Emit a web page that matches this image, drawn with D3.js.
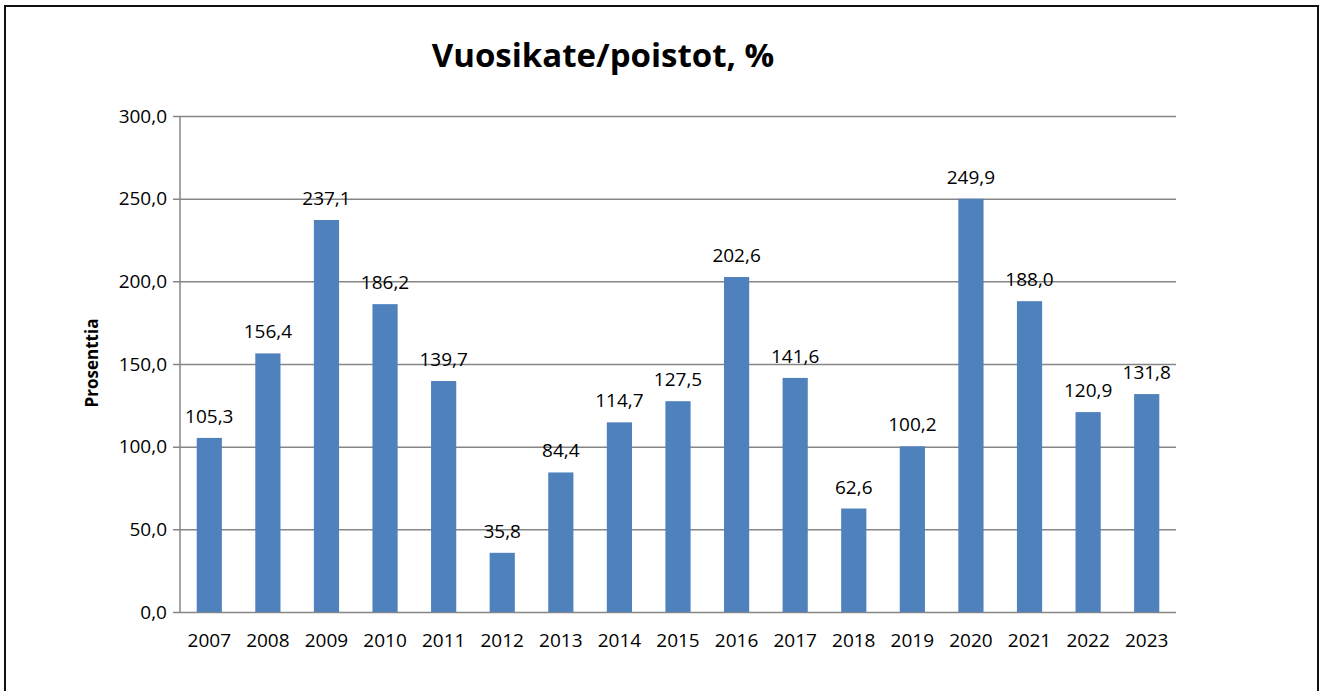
<!DOCTYPE html>
<html>
<head>
<meta charset="utf-8">
<script src="https://cdn.jsdelivr.net/npm/d3@7"></script>
<style>
  body { margin: 0; background: #fff; }
  svg text { font-family: "Open Sans", sans-serif; fill: #000; }
</style>
</head>
<body>
<svg id="chart"></svg>
<script>
// data
const years = ["2007", "2008", "2009", "2010", "2011", "2012", "2013", "2014", "2015",
  "2016", "2017", "2018", "2019", "2020", "2021", "2022", "2023"];
const values = [105.3, 156.4, 237.1, 186.2, 139.7, 35.8, 84.4, 114.7, 127.5,
  202.6, 141.6, 62.6, 100.2, 249.9, 188.0, 120.9, 131.8];
const yTicks = [0, 50, 100, 150, 200, 250, 300];

const W = 1320, H = 691;
const margin = { top: 116, right: 144, bottom: 79, left: 180 };
const width = W - margin.left - margin.right;
const height = H - margin.top - margin.bottom;

const fmt = v => d3.format(".1f")(v).replace(".", ",");

const svg = d3.select("#chart")
  .attr("width", W)
  .attr("height", H);

// outer frame
svg.append("rect")
  .attr("x", 5).attr("y", 6)
  .attr("width", 1313).attr("height", 700)
  .attr("fill", "none")
  .attr("stroke", "#111")
  .attr("stroke-width", 2);

svg.append("text")
  .attr("x", 603)
  .attr("y", 67)
  .attr("text-anchor", "middle")
  .style("font-size", "33px")
  .style("font-weight", "bold")
  .text("Vuosikate/poistot, %");

const g = svg.append("g")
  .attr("transform", `translate(${margin.left},${margin.top})`);

const x = d3.scaleBand()
  .domain(years)
  .range([0, width])
  .paddingInner(0.57)
  .paddingOuter(0.285);

const y = d3.scaleLinear()
  .domain([0, 300])
  .range([height, 0]);

// gridlines + y axis
const yAxis = g.append("g")
  .call(d3.axisLeft(y).tickValues(yTicks).tickSize(-width).tickPadding(13).tickFormat(fmt));
yAxis.select(".domain").remove();
yAxis.selectAll(".tick line")
  .attr("x1", -7)
  .attr("stroke", "#868686")
  .attr("stroke-width", 1.5);
yAxis.selectAll(".tick text")
  .style("font-size", "19px")
  .style("font-family", "Open Sans, sans-serif")
  .attr("fill", "#000");

// vertical axis line
g.append("line")
  .attr("x1", 0).attr("x2", 0)
  .attr("y1", 0).attr("y2", height)
  .attr("stroke", "#868686")
  .attr("stroke-width", 1.5);

// bars
g.selectAll(".bar")
  .data(values)
  .enter()
  .append("rect")
  .attr("class", "bar")
  .attr("x", (d, i) => x(years[i]))
  .attr("y", d => y(d))
  .attr("width", x.bandwidth())
  .attr("height", d => height - y(d))
  .attr("fill", "#4F81BD");

// value labels
g.selectAll(".val")
  .data(values)
  .enter()
  .append("text")
  .attr("class", "val")
  .attr("x", (d, i) => x(years[i]) + x.bandwidth() / 2)
  .attr("y", d => y(d) - 15)
  .attr("text-anchor", "middle")
  .style("font-size", "19px")
  .text(d => fmt(d));

// x labels
g.selectAll(".xl")
  .data(years)
  .enter()
  .append("text")
  .attr("class", "xl")
  .attr("x", d => x(d) + x.bandwidth() / 2)
  .attr("y", height + 35)
  .attr("text-anchor", "middle")
  .style("font-size", "19px")
  .text(d => d);

// y axis title
svg.append("text")
  .attr("transform", "translate(98,363) rotate(-90)")
  .attr("text-anchor", "middle")
  .style("font-size", "17px")
  .style("font-weight", "bold")
  .text("Prosenttia");
</script>
</body>
</html>
